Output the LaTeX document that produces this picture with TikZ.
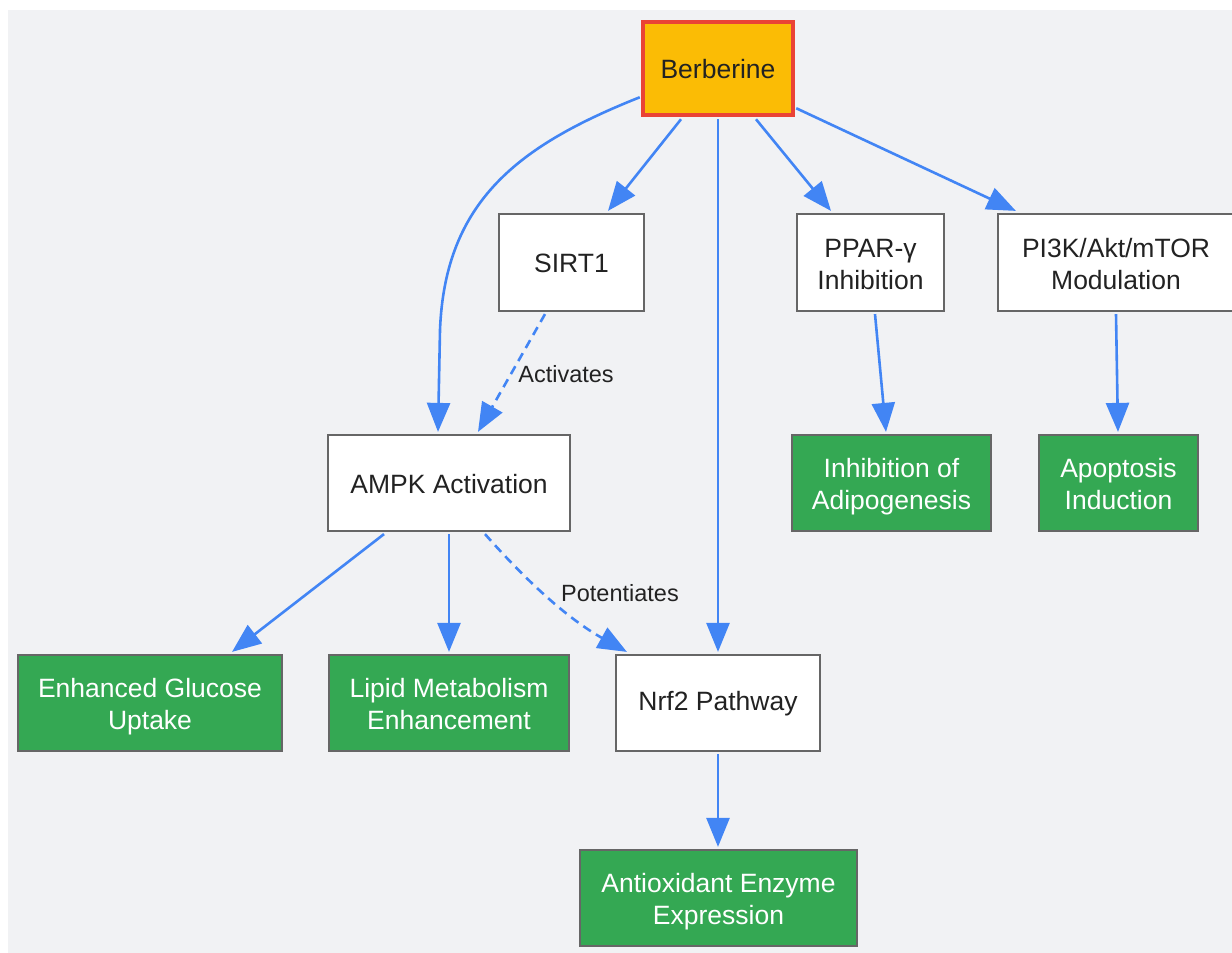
\documentclass[tikz,border=0pt]{standalone}
\usepackage{fontspec}
\setmainfont{Liberation Sans}
\usetikzlibrary{arrows.meta,calc}
\definecolor{bgc}{HTML}{F1F2F4}
\definecolor{ylw}{HTML}{FBBC05}
\definecolor{redb}{HTML}{EA4335}
\definecolor{grn}{HTML}{34A853}
\definecolor{blu}{HTML}{4285F4}
\definecolor{bord}{HTML}{666666}
\definecolor{txt}{HTML}{222222}
\newcommand{\mytl}{\rule{0pt}{26pt}}
\newcommand{\mybl}{\rule[-5pt]{0pt}{5pt}}
\newcommand{\mysl}{\rule{0pt}{21pt}}
\tikzset{
  box/.style={draw=bord, line width=2.2pt, fill=white, text=txt, align=center, inner sep=0pt,
    font=\fontsize{26.5}{32}\selectfont},
  gbox/.style={box, fill=grn, text=white},
  rootbox/.style={box, draw=redb, line width=4.5pt, fill=ylw},
  conn/.style={draw=blu, line width=2.6pt, -{Triangle[length=29pt,width=23pt]}},
  dconn/.style={conn, dash pattern=on 9pt off 6pt},
  elabel/.style={text=txt, font=\fontsize{23.5}{28}\selectfont, inner sep=0pt}
}
\begin{document}
\begin{tikzpicture}[x=1pt,y=-1pt]
\useasboundingbox (0,0) rectangle (1232,953);
\clip (0,0) rectangle (1232,953);
\fill[bgc] (8,10) rectangle (1240,960);

\node[rootbox, minimum width=150pt, minimum height=93pt] (ber) at (718,68.5) {\mysl Berberine};
\node[box, minimum width=145pt, minimum height=97pt] (sirt) at (571.5,262.5) {\mysl SIRT1};
\node[box, minimum width=147pt, minimum height=97pt] (ppar) at (870.5,262.5) {\mytl PPAR-γ\\Inhibition\mybl};
\node[box, minimum width=236pt, minimum height=97pt] (pi3k) at (1116,262.5) {\mytl PI3K/Akt/mTOR\\Modulation\mybl};
\node[box, minimum width=242pt, minimum height=96pt] (ampk) at (449,483) {\mysl AMPK Activation};
\node[gbox, minimum width=199pt, minimum height=96pt] (adipo) at (891.5,483) {\mytl Inhibition of\\Adipogenesis\mybl};
\node[gbox, minimum width=159pt, minimum height=96pt] (apop) at (1118.5,483) {\mytl Apoptosis\\Induction\mybl};
\node[gbox, minimum width=264pt, minimum height=96pt] (gluc) at (150,703) {\mytl Enhanced Glucose\\Uptake\mybl};
\node[gbox, minimum width=240pt, minimum height=96pt] (lipid) at (449,703) {\mytl Lipid Metabolism\\Enhancement\mybl};
\node[box, minimum width=204pt, minimum height=96pt] (nrf) at (718,703) {\mysl Nrf2 Pathway};
\node[gbox, minimum width=277pt, minimum height=96pt] (anti) at (718.5,898) {\mytl Antioxidant Enzyme\\Expression\mybl};

% edges from Berberine
\draw[conn] ($(ber.south)+(-37,2)$) -- ($(sirt.north)+(36.5,-2)$);
\draw[conn] ($(ber.south west)+(-1,-20)$) .. controls (520,145) and (445,200) .. (440,330) -- ($(ampk.north)+(-11,-2)$);
\draw[conn] ($(ber.south)+(0,2)$) -- ($(nrf.north)+(0,-2)$);
\draw[conn] ($(ber.south)+(38,2)$) -- ($(ppar.north)+(-39.5,-2)$);
\draw[conn] ($(ber.south east)+(1,-9)$) -- ($(pi3k.north west)+(19,-2)$);

% SIRT1 -> AMPK
\draw[dconn] ($(sirt.south)+(-26.5,2)$) -- ($(ampk.north)+(29,-2)$);
\node[elabel] (lact) at (566,374) {Activates};

% PPAR, PI3K
\draw[conn] ($(ppar.south)+(4.5,2)$) -- ($(adipo.north)+(-5.5,-2)$);
\draw[conn] ($(pi3k.south)+(0,2)$) -- ($(apop.north)+(-0.5,-2)$);

% AMPK outputs
\draw[conn] ($(ampk.south)+(-65,2)$) -- ($(gluc.north)+(82,-2)$);
\draw[conn] ($(ampk.south)+(0,2)$) -- ($(lipid.north)+(0,-2)$);
\draw[dconn] ($(ampk.south)+(36,2)$) .. controls (530,585) and (570,620) .. ($(nrf.north west)+(12,-2)$);
\node[elabel] (lpot) at (620,593) {Potentiates};

% Nrf2 -> Antioxidant
\draw[conn] ($(nrf.south)+(0,2)$) -- ($(anti.north)+(-0.5,-2)$);
\end{tikzpicture}
\end{document}
